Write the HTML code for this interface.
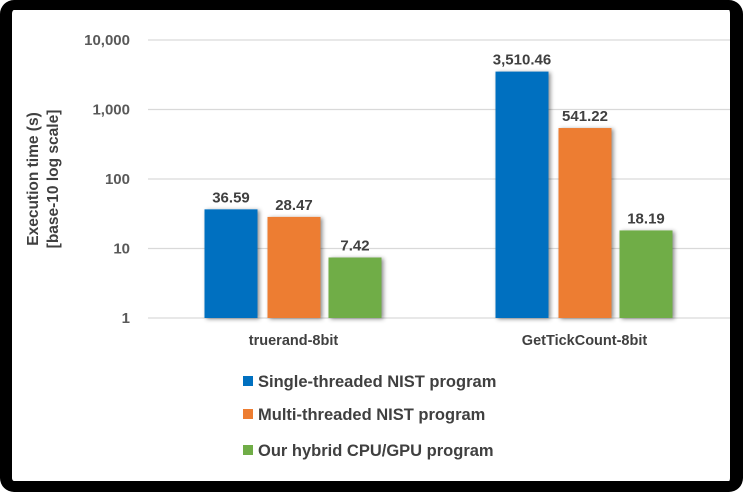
<!DOCTYPE html>
<html><head><meta charset="utf-8"><style>
html,body{margin:0;padding:0;background:#fff}
#frame{position:absolute;left:0;top:0;width:743px;height:492px;box-sizing:border-box;border:solid #000;border-width:10px 13px 11px 12px;border-radius:14px;background:#fff}
svg{position:absolute;left:0;top:0}
text{font-family:"Liberation Sans",sans-serif;font-weight:bold}
</style></head><body>
<div id="frame"></div>
<svg id="chart" width="743" height="492">
<defs><filter id="sh" x="-20%" y="-20%" width="150%" height="150%"><feDropShadow dx="2" dy="1" stdDeviation="2" flood-color="#000" flood-opacity="0.45"/></filter></defs>
</svg>
<script>
const categories=["truerand-8bit","GetTickCount-8bit"];
const seriesNames=["Single-threaded NIST program","Multi-threaded NIST program","Our hybrid CPU/GPU program"];
const singleValues=[36.59,3510.46];
const multiValues=[28.47,541.22];
const hybridValues=[7.42,18.19];
const valueLabels=[["36.59","3,510.46"],["28.47","541.22"],["7.42","18.19"]];
const tickValues=[1,10,100,1000,10000];
const tickLabels=["1","10","100","1,000","10,000"];
const colors=["#0070C0","#ED7D31","#70AD47"];
const svg=document.getElementById('chart');
const NS="http://www.w3.org/2000/svg";
const x0=148,x1=730,yTop=40,yBot=318;
function y(v){return yBot-(Math.log10(v)-0)/(4)*(yBot-yTop);}
const gw=(x1-x0)/categories.length;
function xc(i){return x0+gw*(i+0.5);}
function mk(tag,attrs){const e=document.createElementNS(NS,tag);for(const k in attrs)e.setAttribute(k,attrs[k]);svg.appendChild(e);return e;}
tickValues.forEach((t,i)=>{
 const l=mk('line',{x1:x0,x2:x1,y1:y(t),y2:y(t),stroke:'#d9d9d9','stroke-width':1.3});
 
 
 const tx=mk('text',{x:130,y:y(t)+5,'text-anchor':'end','font-size':15,fill:'#595959'});
 tx.textContent=tickLabels[i];
 
 
});
const series=[singleValues,multiValues,hybridValues];
const bw=53,offs=[-89,-26,35];
series.forEach((vals,s)=>{
 vals.forEach((v,i)=>{
  const bx=xc(i)+offs[s];
  const r=mk('rect',{x:bx,y:y(v),width:bw,height:yBot-y(v),fill:colors[s],filter:'url(#sh)'});
  
  
  const t=mk('text',{x:bx+bw/2,y:y(v)-7,'text-anchor':'middle','font-size':15,fill:'#404040'});
  t.textContent=valueLabels[s][i];
  
  
 });
});
categories.forEach((c,i)=>{
 const t=mk('text',{x:xc(i),y:345,'text-anchor':'middle','font-size':14.5,fill:'#404040'});
 t.textContent=c;
 
 
});
const yt=mk('text',{transform:'translate(38,179) rotate(-90)','text-anchor':'middle','font-size':15.5,fill:'#404040'});


const ts1=document.createElementNS(NS,'tspan');ts1.setAttribute('x',0);ts1.setAttribute('y',0);ts1.textContent='Execution time (s)';yt.appendChild(ts1);
const ts2=document.createElementNS(NS,'tspan');ts2.setAttribute('x',0);ts2.setAttribute('y',20);ts2.textContent='[base-10 log scale]';yt.appendChild(ts2);
const ly=[382,415,451];
seriesNames.forEach((n,s)=>{
 const r=mk('rect',{x:243,y:ly[s]-6,width:10,height:10,fill:colors[s]});
 
 
 const t=mk('text',{x:258,y:ly[s]+5,'font-size':16.5,fill:'#404040'});
 t.textContent=n;
 
 
});
</script>
</body></html>
